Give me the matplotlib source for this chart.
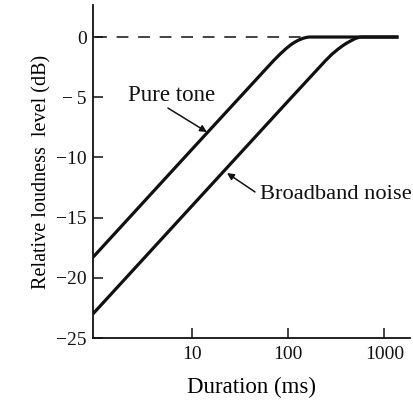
import matplotlib
matplotlib.use("Agg")
import matplotlib.pyplot as plt

# Data
pure_duration = [0.925, 10, 60, 70, 82, 95, 107, 117, 130, 143, 155, 165, 1400]
pure_level = [-18.3, -9.3, -2.55, -1.97, -1.42, -0.95, -0.62, -0.42, -0.23, -0.1, -0.03, 0.0, 0.0]

noise_duration = [0.925, 10, 100, 243, 285, 330, 371, 406, 451, 496, 540, 575, 1400]
noise_level = [-23.0, -14.0, -5.3, -1.97, -1.42, -1.0, -0.7, -0.5, -0.3, -0.13, -0.03, 0.0, 0.0]

x_ticks = [10, 100, 1000]
x_tick_labels = ["10", "100", "1000"]
y_ticks = [0, -5, -10, -15, -20, -25]
y_tick_labels = ["0", "\u2212\u20095", "\u221210", "\u221215", "\u221220", "\u221225"]

plt.rcParams['font.family'] = ['Liberation Serif', 'DejaVu Serif']
plt.rcParams['lines.scale_dashes'] = False

fig = plt.figure(figsize=(4.13, 4.0), dpi=100)
ax = fig.add_axes([0.225, 0.155, 0.768, 0.8325])

ax.set_xscale('log')
ax.set_xlim(0.925, 1850)
ax.set_ylim(-25, 2.66)

ax.plot([0.925, 150], [0, 0], color='#111111', lw=1.1, linestyle=(14, (8.5, 7.0)))
ax.plot(pure_duration, pure_level, color='#111111', lw=2.3, solid_capstyle='butt',
        solid_joinstyle='round')
ax.plot(noise_duration, noise_level, color='#111111', lw=2.3, solid_capstyle='butt',
        solid_joinstyle='round')

for s in ['top', 'right']:
    ax.spines[s].set_visible(False)
for s in ['left', 'bottom']:
    ax.spines[s].set_linewidth(1.3)
    ax.spines[s].set_color('#111111')

ax.set_xticks(x_ticks)
ax.set_xticklabels(x_tick_labels)
ax.xaxis.set_minor_locator(matplotlib.ticker.NullLocator())
ax.set_yticks(y_ticks)
ax.set_yticklabels(y_tick_labels)
ax.tick_params(axis='both', direction='in', length=7, width=1.1, colors='#111111', labelsize=14)
ax.tick_params(axis='y', pad=4.5)
ax.tick_params(axis='x', pad=5.5)

ax.set_xlabel("Duration (ms)", fontsize=16.5, labelpad=10)
ax.set_ylabel("Relative loudness  level (dB)", fontsize=14.5, labelpad=3)

arrow_kw = dict(arrowstyle='-|>', color='#111111', lw=1.1, shrinkA=0, shrinkB=0,
                mutation_scale=10)
ax.text(2.14, -5.32, "Pure tone", fontsize=16.5, ha='left', va='baseline', color='#111111')
ax.annotate("", xy=(14.2, -7.89), xytext=(5.58, -5.90), arrowprops=arrow_kw)
ax.text(50.7, -13.45, "Broadband noise", fontsize=16.2, ha='left', va='baseline', color='#111111')
ax.annotate("", xy=(23.0, -11.3), xytext=(45, -12.87), arrowprops=arrow_kw)

fig.savefig("out.png", dpi=100)
